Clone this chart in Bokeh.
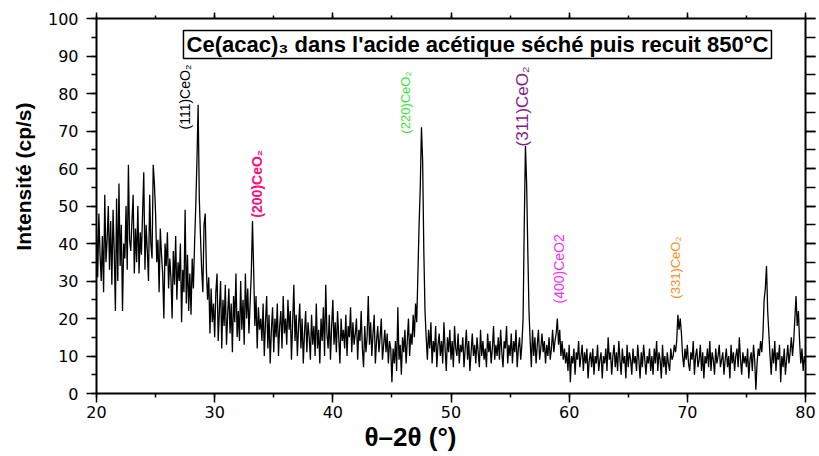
import math
import numpy as np
from bokeh.plotting import figure
from bokeh.models import (ColumnDataSource, LinearAxis, SingleIntervalTicker,
                          BoxAnnotation, Label, Title)
from bokeh.core.properties import value
from bokeh.embed import file_html
from bokeh.resources import INLINE

# ---------------- data ----------------
two_theta_start = 20.0
two_theta_step = 0.1
intensity = [
    44, 31, 48, 37, 30, 42, 27, 53, 35, 41,
    50, 33, 46, 29, 49, 38, 22, 52, 30, 56,
    34, 45, 22, 40, 36, 50, 33, 61, 41, 38,
    46, 53, 32, 44, 35, 50, 32, 43, 37, 48,
    59, 33, 45, 38, 30, 53, 40, 36, 61, 56,
    48, 35, 41, 27, 44, 37, 32, 20, 40, 34,
    43, 28, 36, 31, 20, 38, 29, 42, 25, 35,
    30, 40, 19, 33, 27, 49, 24, 37, 22, 32,
    21, 36, 28, 40, 50, 62, 77, 52, 42, 33,
    27, 45, 48, 33, 25, 31, 16, 28, 19, 24,
    15, 27, 32, 14, 22, 30, 12, 25, 18, 29,
    13, 21, 28, 16, 24, 11, 26, 19, 32, 15,
    22, 14, 30, 17, 25, 13, 32, 20, 28, 16,
    24, 32, 46, 33, 18, 26, 12, 23, 17, 20,
    14, 24, 10, 19, 26, 12, 21, 8, 17, 23,
    11, 20, 15, 24, 10, 18, 22, 12, 26, 16,
    20, 13, 25, 17, 22, 9, 19, 29, 14, 21,
    10, 18, 24, 12, 20, 8, 16, 22, 11, 19,
    15, 9, 21, 13, 18, 10, 24, 12, 17, 8,
    20, 14, 23, 10, 29, 16, 12, 21, 9, 18,
    25, 13, 19, 11, 22, 15, 8, 20, 14, 17,
    12, 21, 10, 18, 15, 23, 11, 19, 13, 16,
    20, 9, 17, 14, 22, 12, 7, 18, 11, 15,
    26, 13, 19, 10, 16, 21, 8, 14, 18, 11,
    15, 20, 9, 13, 17, 11, 16, 8, 14, 12,
    3, 12, 8, 14, 6, 23, 9, 13, 5, 15,
    11, 17, 8, 14, 20, 10, 16, 13, 21, 15,
    24, 19, 32, 45, 55, 71, 62, 38, 22, 15,
    9, 17, 12, 19, 8, 14, 11, 18, 7, 13,
    16, 10, 14, 8, 19, 12, 6, 15, 11, 17,
    9, 14, 7, 18, 12, 10, 16, 8, 13, 11,
    15, 7, 12, 17, 9, 14, 6, 11, 16, 10,
    13, 8, 15, 11, 7, 17, 10, 14, 9, 12,
    7, 16, 11, 14, 8, 12, 18, 9, 13, 10,
    15, 9, 17, 11, 7, 14, 12, 18, 8, 13,
    10, 16, 8, 14, 11, 17, 7, 12, 15, 9,
    13, 20, 45, 66, 56, 38, 22, 14, 7, 17,
    10, 15, 8, 13, 17, 9, 12, 16, 11, 14,
    8, 13, 10, 15, 9, 12, 17, 11, 14, 16,
    20, 13, 17, 10, 14, 9, 12, 8, 11, 6,
    13, 3, 10, 8, 12, 5, 11, 9, 14, 7,
    10, 13, 6, 11, 8, 12, 4, 9, 11, 7,
    12, 5, 10, 8, 13, 6, 9, 11, 4, 10,
    8, 12, 6, 15, 9, 11, 5, 10, 13, 7,
    11, 6, 14, 9, 5, 12, 8, 10, 4, 13,
    7, 11, 9, 5, 12, 8, 10, 6, 13, 9,
    4, 11, 7, 13, 9, 5, 10, 8, 12, 6,
    10, 5, 12, 8, 14, 6, 11, 9, 4, 13,
    7, 10, 5, 11, 8, 6, 12, 9, 10, 13,
    11, 14, 21, 17, 20, 16, 10, 7, 12, 9,
    13, 8, 6, 11, 9, 14, 5, 10, 12, 7,
    9, 13, 6, 11, 4, 10, 8, 12, 7, 14,
    6, 11, 9, 5, 12, 8, 10, 13, 7, 9,
    11, 5, 9, 12, 7, 10, 4, 13, 8, 11,
    6, 10, 12, 7, 15, 9, 5, 11, 8, 10,
    7, 12, 4, 9, 11, 6, 13, 9, 1, 8,
    12, 10, 14, 11, 16, 25, 28, 34, 22, 16,
    10, 5, 12, 8, 14, 6, 11, 9, 13, 3,
    10, 7, 12, 5, 9, 13, 8, 11, 15, 10,
    14, 20, 26, 18, 22, 14, 8, 12, 6, 10,
    8,
]
two_theta = [round(two_theta_start + two_theta_step * i, 2) for i in range(len(intensity))]

peak_labels = ["(111)CeO₂", "(200)CeO₂", "(220)CeO₂", "(311)CeO₂", "(400)CeO2", "(331)CeO₂"]
peak_label_x = [27.45, 33.62, 46.15, 56.05, 59.1, 69.0]
peak_label_y = [70.4, 46.9, 69.3, 65.9, 24.0, 25.3]
peak_label_colors = ["#000000", "#ff0a78", "#33e833", "#8b1a8b", "#ff2bff", "#ff8c1a"]
peak_label_sizes = ["14px", "14px", "13px", "17px", "14px", "13px"]
peak_label_styles = ["normal", "bold", "normal", "normal", "normal", "normal"]

title_text = "Ce(acac)₃ dans l'acide acétique séché puis recuit 850°C"
x_title = "θ–2θ (°)"
y_title = "Intensité (cp/s)"

# ---------------- figure ----------------
p = figure(width=819, height=456, x_range=(20, 80), y_range=(0, 100),
           output_backend="svg", toolbar_location=None,
           min_border_left=96, min_border_right=14,
           min_border_top=18, min_border_bottom=63)
p.xgrid.grid_line_color = None
p.ygrid.grid_line_color = None
p.outline_line_color = "black"
p.outline_line_width = 1
p.background_fill_color = "white"
p.border_fill_color = "white"

src = ColumnDataSource(dict(x=two_theta, y=intensity))
p.line("x", "y", source=src, line_color="black", line_width=1.3)

tick_font = "DejaVu Sans"

def style_axis(ax, major_out, minor_out, labels=True):
    ax.ticker = SingleIntervalTicker(interval=10, num_minor_ticks=2)
    ax.axis_line_color = "black"
    ax.axis_line_width = 2
    ax.major_tick_line_color = "black"
    ax.major_tick_line_width = 1.5
    ax.minor_tick_line_color = "black"
    ax.minor_tick_line_width = 1.5
    ax.major_tick_in = 0
    ax.minor_tick_in = 0
    ax.major_tick_out = major_out
    ax.minor_tick_out = minor_out
    if labels:
        ax.major_label_text_font = tick_font
        ax.major_label_text_font_size = "16px"
        ax.major_label_text_color = "black"
    else:
        ax.major_label_text_font_size = "1px"
        ax.major_label_text_color = None
        ax.major_label_standoff = 0

xa = p.xaxis[0]
style_axis(xa, 9, 4)
xa.major_label_standoff = 3

ya = p.yaxis[0]
style_axis(ya, 10, 5)
ya.major_label_standoff = 8

top_ax = LinearAxis()
style_axis(top_ax, 6, 3, labels=False)
p.add_layout(top_ax, "above")

right_ax = LinearAxis()
style_axis(right_ax, 10, 10, labels=False)
p.add_layout(right_ax, "right")

# axis titles as side titles (so they can sit off-centre like the reference)
xt = Title(text=x_title, align="left", offset=268, vertical_align="middle",
           standoff=0, text_font="Liberation Sans", text_font_style="bold",
           text_font_size="26px", text_color="black")
p.add_layout(xt, "below")
yt = Title(text=y_title, align="right", offset=84, vertical_align="top",
           standoff=16, text_font="Liberation Sans", text_font_style="bold",
           text_font_size="21px", text_color="black")
p.add_layout(yt, "left")

# peak labels (rotated)
lab_src = ColumnDataSource(dict(x=peak_label_x, y=peak_label_y, text=peak_labels,
                                color=peak_label_colors, size=peak_label_sizes,
                                style=peak_label_styles))
p.text(x="x", y="y", text="text", source=lab_src, angle=math.pi / 2,
       text_color="color", text_font_size="size", text_font_style="style",
       text_font=value("Liberation Sans"), text_align="left", text_baseline="middle")

# boxed title
box = BoxAnnotation(left=27.36, right=77.12, bottom=89.33, top=96.8,
                    fill_color="white", fill_alpha=1.0,
                    line_color="black", line_width=1.5, line_alpha=1.0)
p.add_layout(box)
title_lbl = Label(x=52.24, y=93.07, text=title_text, text_align="center",
                  text_baseline="middle", text_font="Liberation Sans",
                  text_font_style="bold", text_font_size="22px", text_color="black")
p.add_layout(title_lbl)

open("out.html", "w").write(file_html(p, INLINE))
